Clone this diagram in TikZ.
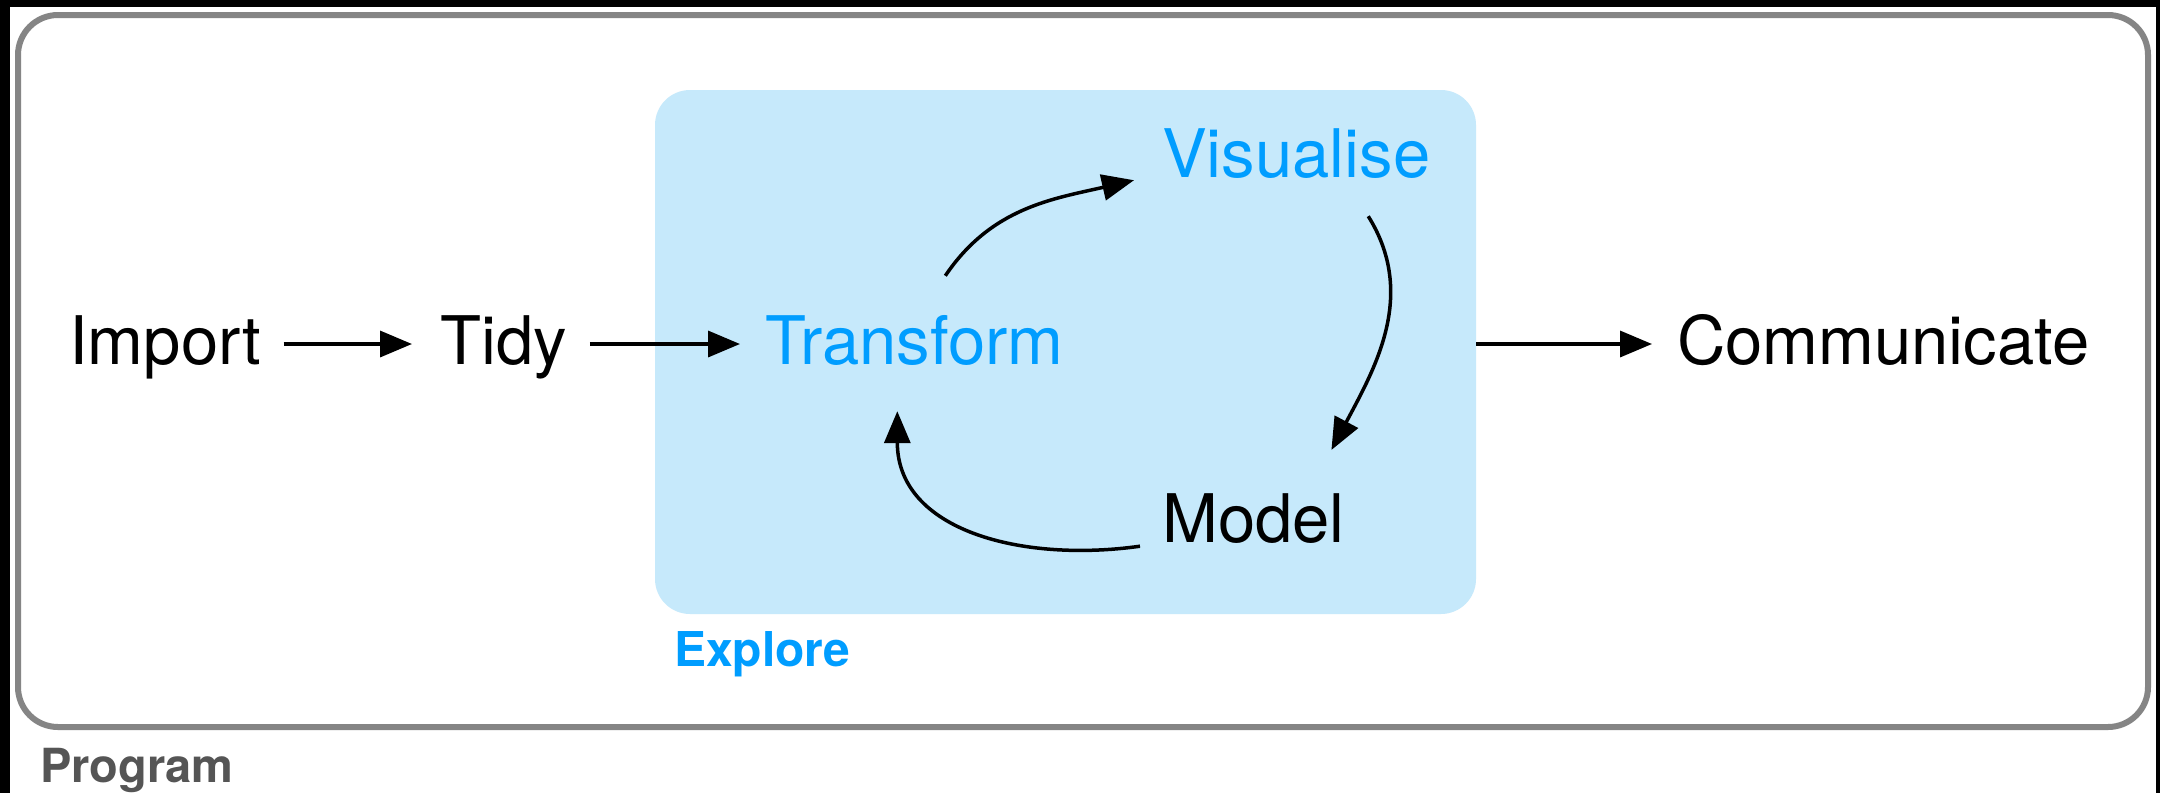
\documentclass[tikz,border=0pt]{standalone}
\usepackage{fontspec}
\setmainfont{TeX Gyre Heros}
\usepackage{tikz}
\usetikzlibrary{arrows.meta}
\definecolor{explore}{RGB}{0, 157, 255}
\definecolor{explorefill}{RGB}{198, 233, 251}
\definecolor{frame}{RGB}{133, 133, 133}
\definecolor{caption}{RGB}{85, 85, 85}

\begin{document}
\begin{tikzpicture}[x=1pt,y=-1pt,
    lbl/.style={inner sep=0pt,anchor=base west,font=\fontsize{67}{70}\selectfont},
    tag/.style={inner sep=0pt,anchor=base west,font=\fontsize{47}{50}\selectfont\bfseries},
    flow/.style={line width=3.5pt,-{Triangle[length=32pt,width=26pt]}}]
  \fill[black] (0,0) rectangle (2160,793);
  \useasboundingbox (0,0) rectangle (2160,793);
  \fill[white] (10,7) rectangle (2156,793);
  \draw[frame,line width=6pt,rounded corners=40pt] (18,15) rectangle (2148,727);
  \node[fill=explorefill,rounded corners=35pt,inner sep=0pt,
    minimum width=821pt,minimum height=524pt] (explore) at (1065.5,352) {};
  \node[tag,text=caption] (program) at (40,782) {Program};
  \node[tag,text=explore,font=\fontsize{48}{50}\selectfont\bfseries] (exploretag) at (674,666) {Explore};
  \node[lbl] (import) at (69,364) {Import};
  \node[lbl] (tidy) at (440,364) {Tidy};
  \node[lbl,text=explore] (trans) at (765,364) {Transform};
  \node[lbl,text=explore] (vis) at (1162,177) {Visualise};
  \node[lbl] (model) at (1162,542) {Model};
  \node[lbl] (comm) at (1677,364) {Communicate};
  % straight steps
  \draw[flow] ([xshift=22pt,yshift=20pt]import.base east) -- ([xshift=-28pt,yshift=20pt]tidy.base west);
  \draw[flow] ([xshift=23pt,yshift=20pt]tidy.base east) -- ([xshift=-25pt,yshift=20pt]trans.base west);
  \draw[flow] ([yshift=20pt]trans.base -| explore.east) -- ([xshift=-25pt,yshift=20pt]comm.base west);
  % explore cycle
  \draw[flow] ([xshift=31pt,yshift=39pt]trans.north) to[out=56,in=193]
    ([xshift=-28pt,yshift=-2pt]vis.south west);
  \draw[flow] ([xshift=72pt,yshift=-38pt]vis.south) to[out=-58,in=62]
    ([xshift=78pt,yshift=43pt]model.north);
  \draw[flow] ([xshift=-22pt,yshift=-3pt]model.south west) to[out=188,in=-90,looseness=1.1]
    ([xshift=-17pt,yshift=-46pt]trans.south);
\end{tikzpicture}
\end{document}
